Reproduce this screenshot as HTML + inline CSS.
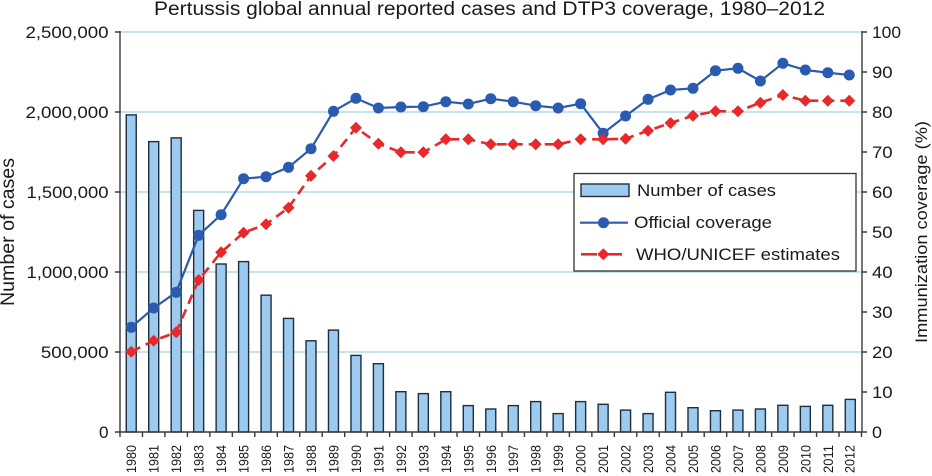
<!DOCTYPE html>
<html>
<head>
<meta charset="utf-8">
<style>
html,body{margin:0;padding:0;background:#fff;}
svg{display:block;}
text{font-family:"Liberation Sans",Arial,sans-serif;fill:#1a1a1a;}
</style>
</head>
<body>
<svg width="932" height="476" viewBox="0 0 932 476" xmlns="http://www.w3.org/2000/svg">
<rect width="932" height="476" fill="#fff"/>
<!-- title -->
<text x="154" y="15" font-size="19" textLength="671" lengthAdjust="spacingAndGlyphs">Pertussis global annual reported cases and DTP3 coverage, 1980–2012</text>

<!-- gridlines -->
<g stroke="#a9d0e6" stroke-width="1.2">
<line x1="120" y1="32" x2="862" y2="32"/>
<line x1="120" y1="112" x2="862" y2="112"/>
<line x1="120" y1="192" x2="862" y2="192"/>
<line x1="120" y1="272" x2="862" y2="272"/>
<line x1="120" y1="352" x2="862" y2="352"/>
</g>

<!-- bars -->
<g fill="#9ccbef" stroke="#1f2d3d" stroke-width="1.4">
<rect x="126.24" y="114.9" width="10" height="317.1"/>
<rect x="148.71" y="141.6" width="10" height="290.4"/>
<rect x="171.18" y="137.9" width="10" height="294.1"/>
<rect x="193.65" y="210.4" width="10" height="221.6"/>
<rect x="216.12" y="264" width="10" height="168"/>
<rect x="238.59" y="261.6" width="10" height="170.4"/>
<rect x="261.06" y="295.2" width="10" height="136.8"/>
<rect x="283.53" y="318.4" width="10" height="113.6"/>
<rect x="306.00" y="340.8" width="10" height="91.2"/>
<rect x="328.47" y="330.1" width="10" height="101.9"/>
<rect x="350.94" y="355.4" width="10" height="76.6"/>
<rect x="373.41" y="363.7" width="10" height="68.3"/>
<rect x="395.88" y="391.7" width="10" height="40.3"/>
<rect x="418.35" y="393.6" width="10" height="38.4"/>
<rect x="440.82" y="391.7" width="10" height="40.3"/>
<rect x="463.29" y="405.6" width="10" height="26.4"/>
<rect x="485.76" y="409" width="10" height="23"/>
<rect x="508.23" y="405.6" width="10" height="26.4"/>
<rect x="530.70" y="401.6" width="10" height="30.4"/>
<rect x="553.17" y="413.6" width="10" height="18.4"/>
<rect x="575.64" y="401.6" width="10" height="30.4"/>
<rect x="598.11" y="404.3" width="10" height="27.7"/>
<rect x="620.58" y="410.1" width="10" height="21.9"/>
<rect x="643.05" y="413.6" width="10" height="18.4"/>
<rect x="665.52" y="392.3" width="10" height="39.7"/>
<rect x="687.99" y="407.7" width="10" height="24.3"/>
<rect x="710.46" y="410.7" width="10" height="21.3"/>
<rect x="732.93" y="410.1" width="10" height="21.9"/>
<rect x="755.40" y="409" width="10" height="23"/>
<rect x="777.87" y="405.3" width="10" height="26.7"/>
<rect x="800.34" y="406.4" width="10" height="25.6"/>
<rect x="822.81" y="405.3" width="10" height="26.7"/>
<rect x="845.28" y="399.4" width="10" height="32.6"/>
</g>

<!-- axes -->
<g stroke="#3a3a3a" stroke-width="1.4" fill="none">
<line x1="120" y1="31" x2="120" y2="432"/>
<line x1="862" y1="31" x2="862" y2="432"/>
<line x1="120" y1="432" x2="862" y2="432"/>
<!-- left ticks -->
<path d="M115 32H120M115 112H120M115 192H120M115 272H120M115 352H120M115 432H120"/>
<!-- right ticks -->
<path d="M862 32H867M862 72H867M862 112H867M862 152H867M862 192H867M862 232H867M862 272H867M862 312H867M862 352H867M862 392H867M862 432H867"/>
<!-- x ticks -->
<path d="M120 432V437M142.47 432V437M164.94 432V437M187.41 432V437M209.88 432V437M232.35 432V437M254.82 432V437M277.29 432V437M299.76 432V437M322.23 432V437M344.7 432V437M367.17 432V437M389.64 432V437M412.11 432V437M434.58 432V437M457.05 432V437M479.52 432V437M501.99 432V437M524.46 432V437M546.93 432V437M569.4 432V437M591.87 432V437M614.34 432V437M636.81 432V437M659.28 432V437M681.75 432V437M704.22 432V437M726.69 432V437M749.16 432V437M771.63 432V437M794.1 432V437M816.57 432V437M839.04 432V437M861.5 432V437"/>
</g>

<!-- official coverage line -->
<polyline fill="none" stroke="#2a5bb0" stroke-width="2.2" points="131.24,327.3 153.71,308 176.18,292.3 198.65,235.3 221.12,214.7 243.59,178.7 266.06,176.7 288.53,167.3 311,148.7 333.47,111.3 355.94,98.3 378.41,108 400.88,107 423.35,106.7 445.82,101.7 468.29,104 490.76,98.7 513.23,101.7 535.7,105.7 558.17,108 580.64,103.7 603.11,133.3 625.58,116 648.05,99.3 670.52,90 692.99,88.3 715.46,70.7 737.93,68.3 760.4,81 782.87,63.3 805.34,70 827.81,72.7 849.28,75"/>
<!-- WHO line -->
<polyline fill="none" stroke="#e8282b" stroke-width="2.6" stroke-dasharray="10 6" points="131.24,351.7 153.71,340.7 176.18,332.3 198.65,280 221.12,252.3 243.59,232.7 266.06,224.3 288.53,207.7 311,175.7 333.47,156 355.94,127.7 378.41,143.7 400.88,152.3 423.35,152.3 445.82,139.3 468.29,139.3 490.76,144.3 513.23,144.3 535.7,144.3 558.17,144.3 580.64,139.3 603.11,139.3 625.58,138.7 648.05,130.7 670.52,123 692.99,115.7 715.46,111.3 737.93,111.3 760.4,102.7 782.87,95 805.34,100.7 827.81,100.7 849.28,100.7"/>

<!-- circles -->
<g fill="#2a5bb0">
<circle cx="131.24" cy="327.3" r="5.5"/><circle cx="153.71" cy="308" r="5.5"/><circle cx="176.18" cy="292.3" r="5.5"/><circle cx="198.65" cy="235.3" r="5.5"/><circle cx="221.12" cy="214.7" r="5.5"/><circle cx="243.59" cy="178.7" r="5.5"/><circle cx="266.06" cy="176.7" r="5.5"/><circle cx="288.53" cy="167.3" r="5.5"/><circle cx="311" cy="148.7" r="5.5"/><circle cx="333.47" cy="111.3" r="5.5"/><circle cx="355.94" cy="98.3" r="5.5"/><circle cx="378.41" cy="108" r="5.5"/><circle cx="400.88" cy="107" r="5.5"/><circle cx="423.35" cy="106.7" r="5.5"/><circle cx="445.82" cy="101.7" r="5.5"/><circle cx="468.29" cy="104" r="5.5"/><circle cx="490.76" cy="98.7" r="5.5"/><circle cx="513.23" cy="101.7" r="5.5"/><circle cx="535.7" cy="105.7" r="5.5"/><circle cx="558.17" cy="108" r="5.5"/><circle cx="580.64" cy="103.7" r="5.5"/><circle cx="603.11" cy="133.3" r="5.5"/><circle cx="625.58" cy="116" r="5.5"/><circle cx="648.05" cy="99.3" r="5.5"/><circle cx="670.52" cy="90" r="5.5"/><circle cx="692.99" cy="88.3" r="5.5"/><circle cx="715.46" cy="70.7" r="5.5"/><circle cx="737.93" cy="68.3" r="5.5"/><circle cx="760.4" cy="81" r="5.5"/><circle cx="782.87" cy="63.3" r="5.5"/><circle cx="805.34" cy="70" r="5.5"/><circle cx="827.81" cy="72.7" r="5.5"/><circle cx="849.28" cy="75" r="5.5"/>
</g>
<!-- diamonds -->
<g fill="#e8282b">
<path d="M131.24 345.7l6 6-6 6-6-6z"/><path d="M153.71 334.7l6 6-6 6-6-6z"/><path d="M176.18 326.3l6 6-6 6-6-6z"/><path d="M198.65 274l6 6-6 6-6-6z"/><path d="M221.12 246.3l6 6-6 6-6-6z"/><path d="M243.59 226.7l6 6-6 6-6-6z"/><path d="M266.06 218.3l6 6-6 6-6-6z"/><path d="M288.53 201.7l6 6-6 6-6-6z"/><path d="M311 169.7l6 6-6 6-6-6z"/><path d="M333.47 150l6 6-6 6-6-6z"/><path d="M355.94 121.7l6 6-6 6-6-6z"/><path d="M378.41 137.7l6 6-6 6-6-6z"/><path d="M400.88 146.3l6 6-6 6-6-6z"/><path d="M423.35 146.3l6 6-6 6-6-6z"/><path d="M445.82 133.3l6 6-6 6-6-6z"/><path d="M468.29 133.3l6 6-6 6-6-6z"/><path d="M490.76 138.3l6 6-6 6-6-6z"/><path d="M513.23 138.3l6 6-6 6-6-6z"/><path d="M535.7 138.3l6 6-6 6-6-6z"/><path d="M558.17 138.3l6 6-6 6-6-6z"/><path d="M580.64 133.3l6 6-6 6-6-6z"/><path d="M603.11 133.3l6 6-6 6-6-6z"/><path d="M625.58 132.7l6 6-6 6-6-6z"/><path d="M648.05 124.7l6 6-6 6-6-6z"/><path d="M670.52 117l6 6-6 6-6-6z"/><path d="M692.99 109.7l6 6-6 6-6-6z"/><path d="M715.46 105.3l6 6-6 6-6-6z"/><path d="M737.93 105.3l6 6-6 6-6-6z"/><path d="M760.4 96.7l6 6-6 6-6-6z"/><path d="M782.87 89l6 6-6 6-6-6z"/><path d="M805.34 94.7l6 6-6 6-6-6z"/><path d="M827.81 94.7l6 6-6 6-6-6z"/><path d="M849.28 94.7l6 6-6 6-6-6z"/>
</g>

<!-- legend -->
<rect x="574" y="173.5" width="282" height="97.5" fill="#fff" stroke="#333" stroke-width="1.3"/>
<rect x="581" y="184" width="48" height="12.5" fill="#9ccbef" stroke="#1f2d3d" stroke-width="1.4"/>
<text x="637" y="196" font-size="16.3" textLength="139" lengthAdjust="spacingAndGlyphs">Number of cases</text>
<line x1="580" y1="222.7" x2="628" y2="222.7" stroke="#2a5bb0" stroke-width="2.2"/>
<circle cx="603.5" cy="222.7" r="5.5" fill="#2a5bb0"/>
<text x="634" y="228" font-size="16.3" textLength="138" lengthAdjust="spacingAndGlyphs">Official coverage</text>
<line x1="581" y1="254.3" x2="597" y2="254.3" stroke="#e8282b" stroke-width="2.6"/>
<line x1="607" y1="254.3" x2="622" y2="254.3" stroke="#e8282b" stroke-width="2.6"/>
<path d="M603.3 248.3l6 6-6 6-6-6z" fill="#e8282b"/>
<text x="636" y="260" font-size="16.3" textLength="204" lengthAdjust="spacingAndGlyphs">WHO/UNICEF estimates</text>

<!-- left y labels -->
<g font-size="16.3" text-anchor="end">
<text x="108.5" y="37.8" textLength="83" lengthAdjust="spacingAndGlyphs">2,500,000</text>
<text x="108.5" y="117.8" textLength="83" lengthAdjust="spacingAndGlyphs">2,000,000</text>
<text x="108.5" y="197.8" textLength="82" lengthAdjust="spacingAndGlyphs">1,500,000</text>
<text x="108.5" y="277.8" textLength="82" lengthAdjust="spacingAndGlyphs">1,000,000</text>
<text x="108.5" y="357.8" textLength="67.6" lengthAdjust="spacingAndGlyphs">500,000</text>
<text x="108.5" y="437.8" textLength="9.5" lengthAdjust="spacingAndGlyphs">0</text>
</g>
<!-- right y labels -->
<g font-size="16.3">
<text x="872" y="37.8" textLength="29" lengthAdjust="spacingAndGlyphs">100</text>
<text x="872" y="77.8" textLength="20.6" lengthAdjust="spacingAndGlyphs">90</text>
<text x="872" y="117.8" textLength="20.6" lengthAdjust="spacingAndGlyphs">80</text>
<text x="872" y="157.8" textLength="20.6" lengthAdjust="spacingAndGlyphs">70</text>
<text x="872" y="197.8" textLength="20.6" lengthAdjust="spacingAndGlyphs">60</text>
<text x="872" y="237.8" textLength="20.6" lengthAdjust="spacingAndGlyphs">50</text>
<text x="872" y="277.8" textLength="20.6" lengthAdjust="spacingAndGlyphs">40</text>
<text x="872" y="317.8" textLength="20.6" lengthAdjust="spacingAndGlyphs">30</text>
<text x="872" y="357.8" textLength="20.6" lengthAdjust="spacingAndGlyphs">20</text>
<text x="872" y="397.8" textLength="20.6" lengthAdjust="spacingAndGlyphs">10</text>
<text x="872" y="437.8" textLength="10" lengthAdjust="spacingAndGlyphs">0</text>
</g>

<!-- axis titles -->
<text transform="translate(14,232) rotate(-90)" text-anchor="middle" font-size="19.5" textLength="148" lengthAdjust="spacingAndGlyphs">Number of cases</text>
<text transform="translate(927,232) rotate(-90)" text-anchor="middle" font-size="16.8" textLength="222" lengthAdjust="spacingAndGlyphs">Immunization coverage (%)</text>

<!-- x labels -->
<g font-size="14" text-anchor="end">
<text transform="translate(136.2,445) rotate(-90)" textLength="28" lengthAdjust="spacingAndGlyphs">1980</text>
<text transform="translate(158.7,445) rotate(-90)" textLength="28" lengthAdjust="spacingAndGlyphs">1981</text>
<text transform="translate(181.2,445) rotate(-90)" textLength="28" lengthAdjust="spacingAndGlyphs">1982</text>
<text transform="translate(203.7,445) rotate(-90)" textLength="28" lengthAdjust="spacingAndGlyphs">1983</text>
<text transform="translate(226.1,445) rotate(-90)" textLength="28" lengthAdjust="spacingAndGlyphs">1984</text>
<text transform="translate(248.6,445) rotate(-90)" textLength="28" lengthAdjust="spacingAndGlyphs">1985</text>
<text transform="translate(271.1,445) rotate(-90)" textLength="28" lengthAdjust="spacingAndGlyphs">1986</text>
<text transform="translate(293.5,445) rotate(-90)" textLength="28" lengthAdjust="spacingAndGlyphs">1987</text>
<text transform="translate(316,445) rotate(-90)" textLength="28" lengthAdjust="spacingAndGlyphs">1988</text>
<text transform="translate(338.5,445) rotate(-90)" textLength="28" lengthAdjust="spacingAndGlyphs">1989</text>
<text transform="translate(360.9,445) rotate(-90)" textLength="28" lengthAdjust="spacingAndGlyphs">1990</text>
<text transform="translate(383.4,445) rotate(-90)" textLength="28" lengthAdjust="spacingAndGlyphs">1991</text>
<text transform="translate(405.9,445) rotate(-90)" textLength="28" lengthAdjust="spacingAndGlyphs">1992</text>
<text transform="translate(428.4,445) rotate(-90)" textLength="28" lengthAdjust="spacingAndGlyphs">1993</text>
<text transform="translate(450.8,445) rotate(-90)" textLength="28" lengthAdjust="spacingAndGlyphs">1994</text>
<text transform="translate(473.3,445) rotate(-90)" textLength="28" lengthAdjust="spacingAndGlyphs">1995</text>
<text transform="translate(495.8,445) rotate(-90)" textLength="28" lengthAdjust="spacingAndGlyphs">1996</text>
<text transform="translate(518.2,445) rotate(-90)" textLength="28" lengthAdjust="spacingAndGlyphs">1997</text>
<text transform="translate(540.7,445) rotate(-90)" textLength="28" lengthAdjust="spacingAndGlyphs">1998</text>
<text transform="translate(563.2,445) rotate(-90)" textLength="28" lengthAdjust="spacingAndGlyphs">1999</text>
<text transform="translate(585.6,445) rotate(-90)" textLength="28" lengthAdjust="spacingAndGlyphs">2000</text>
<text transform="translate(608.1,445) rotate(-90)" textLength="28" lengthAdjust="spacingAndGlyphs">2001</text>
<text transform="translate(630.6,445) rotate(-90)" textLength="28" lengthAdjust="spacingAndGlyphs">2002</text>
<text transform="translate(653.1,445) rotate(-90)" textLength="28" lengthAdjust="spacingAndGlyphs">2003</text>
<text transform="translate(675.5,445) rotate(-90)" textLength="28" lengthAdjust="spacingAndGlyphs">2004</text>
<text transform="translate(698,445) rotate(-90)" textLength="28" lengthAdjust="spacingAndGlyphs">2005</text>
<text transform="translate(720.5,445) rotate(-90)" textLength="28" lengthAdjust="spacingAndGlyphs">2006</text>
<text transform="translate(742.9,445) rotate(-90)" textLength="28" lengthAdjust="spacingAndGlyphs">2007</text>
<text transform="translate(765.4,445) rotate(-90)" textLength="28" lengthAdjust="spacingAndGlyphs">2008</text>
<text transform="translate(787.9,445) rotate(-90)" textLength="28" lengthAdjust="spacingAndGlyphs">2009</text>
<text transform="translate(810.3,445) rotate(-90)" textLength="28" lengthAdjust="spacingAndGlyphs">2010</text>
<text transform="translate(832.8,445) rotate(-90)" textLength="28" lengthAdjust="spacingAndGlyphs">2011</text>
<text transform="translate(854.3,445) rotate(-90)" textLength="28" lengthAdjust="spacingAndGlyphs">2012</text>
</g>
</svg>
</body>
</html>
